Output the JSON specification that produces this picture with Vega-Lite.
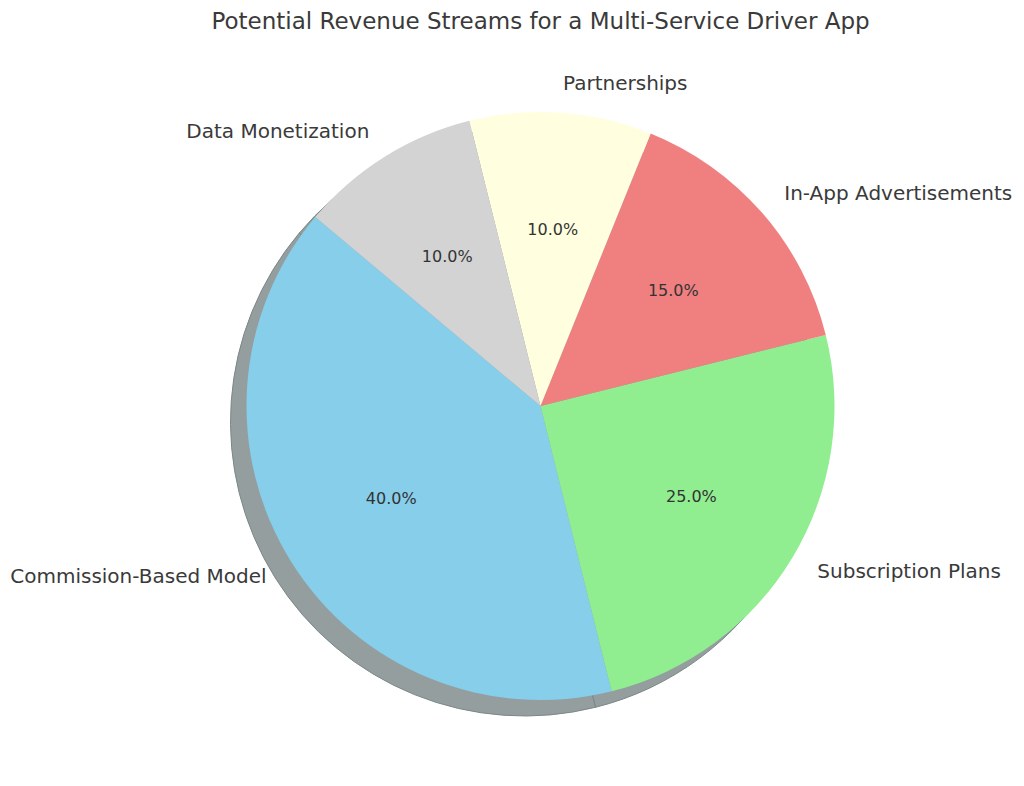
{
  "$schema": "https://vega.github.io/schema/vega-lite/v6.json",
  "width": 1081,
  "height": 812,
  "autosize": "none",
  "padding": 0,
  "background": "white",
  "config": {"view": {"stroke": null}, "font": "DejaVu Sans"},
  "title": {
    "text": "Potential Revenue Streams for a Multi-Service Driver App",
    "anchor": "middle",
    "orient": "top",
    "offset": -22,
    "dy": 23,
    "baseline": "middle",
    "font": "DejaVu Sans",
    "fontSize": 23,
    "fontWeight": "normal",
    "color": "#3a3a3a"
  },
  "data": {
    "values": [
      {"name": "Commission-Based Model", "share": 0.40, "idx": 1},
      {"name": "Subscription Plans", "share": 0.25, "idx": 2},
      {"name": "In-App Advertisements", "share": 0.15, "idx": 3},
      {"name": "Partnerships", "share": 0.10, "idx": 4},
      {"name": "Data Monetization", "share": 0.10, "idx": 5}
    ]
  },
  "encoding": {
    "theta": {"field": "share", "type": "quantitative", "stack": true, "scale": {"range": [5.41052, 11.69371]}},
    "order": {"field": "idx", "type": "quantitative", "sort": "descending"}
  },
  "layer": [
    {
      "mark": {"type": "arc", "outerRadius": 294, "x": {"expr": "width/2 - 16"}, "y": {"expr": "height/2 + 16"}, "fill": "#949e9f", "stroke": "#7c8787", "strokeWidth": 1}
    },
    {
      "mark": {"type": "arc", "outerRadius": 294},
      "encoding": {
        "color": {
          "field": "name",
          "type": "nominal",
          "scale": {
            "domain": ["Commission-Based Model", "Subscription Plans", "In-App Advertisements", "Partnerships", "Data Monetization"],
            "range": ["#87CEEB", "#90EE90", "#F08080", "#FFFFE0", "#D3D3D3"]
          },
          "legend": null
        }
      }
    },
    {
      "mark": {"type": "text", "radius": 176, "align": "center", "baseline": "middle", "fontSize": 16, "font": "DejaVu Sans", "color": "#333333"},
      "encoding": {"text": {"field": "share", "type": "quantitative", "format": ".1%"}}
    },
    {
      "mark": {"type": "text", "radius": 323, "align": "right", "baseline": "middle", "fontSize": 20, "font": "DejaVu Sans", "color": "#3a3a3a"},
      "encoding": {
        "text": {"condition": {"test": "indexof(['Commission-Based Model','Data Monetization'], datum.name) >= 0", "field": "name"}, "value": ""}
      }
    },
    {
      "mark": {"type": "text", "radius": 323, "align": "left", "baseline": "middle", "fontSize": 20, "font": "DejaVu Sans", "color": "#3a3a3a"},
      "encoding": {
        "text": {"condition": {"test": "indexof(['Commission-Based Model','Data Monetization'], datum.name) < 0", "field": "name"}, "value": ""}
      }
    }
  ]
}
